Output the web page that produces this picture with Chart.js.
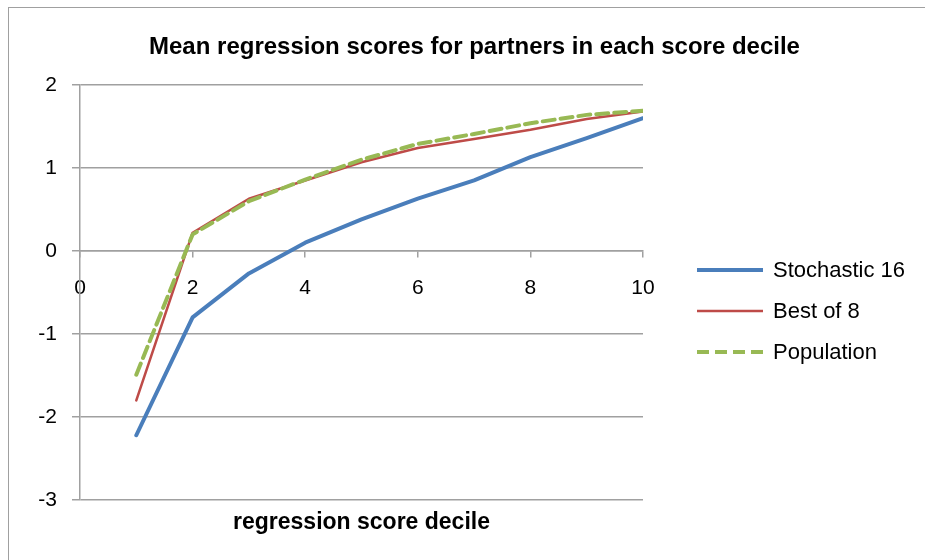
<!DOCTYPE html>
<html>
<head>
<meta charset="utf-8">
<script src="https://cdn.jsdelivr.net/npm/chart.js@4/dist/chart.umd.min.js"></script>
<style>
    html, body { margin: 0; padding: 0; background: #fff; }
    #wrap { position: relative; width: 925px; height: 560px; overflow: hidden; }
    #frame { position: absolute; left: 8px; top: 7px; width: 1000px; height: 700px; border: 1px solid #a0a0a0; box-sizing: border-box; }
    #chart { position: absolute; left: 0; top: 0; }
</style>
</head>
<body>
<div id="wrap">
    <div id="frame"></div>
    <canvas id="chart" width="925" height="560"></canvas>
</div>
<script>
'use strict';

// Chart data
const deciles = [1, 2, 3, 4, 5, 6, 7, 8, 9, 10];
const stochastic16 = [-2.22, -0.80, -0.27, 0.10, 0.38, 0.63, 0.85, 1.13, 1.36, 1.60];
const bestOf8 = [-1.80, 0.22, 0.63, 0.85, 1.07, 1.24, 1.35, 1.46, 1.59, 1.68];
const population = [-1.49, 0.20, 0.60, 0.86, 1.10, 1.29, 1.41, 1.54, 1.64, 1.69];
const seriesNames = ['Stochastic 16', 'Best of 8', 'Population'];
const xTicks = [0, 2, 4, 6, 8, 10];
const yTicks = [-3, -2, -1, 0, 1, 2];

const gridColor = '#a0a0a0';
Chart.defaults.font.family = "'Liberation Sans', Arial, sans-serif";
Chart.defaults.color = '#000';

function points(values) {
    return deciles.map((d, i) => ({ x: d, y: values[i] }));
}

// Legend drawn on the right, in dataset order
const sideLegend = {
    id: 'sideLegend',
    afterDraw(chart) {
        let ctx = chart.ctx;
        ctx.save();
        chart.data.datasets.forEach((ds, i) => {
            let y = 270 + i * 41;
            ctx.beginPath();
            ctx.strokeStyle = ds.borderColor;
            ctx.lineWidth = ds.borderWidth;
            ctx.setLineDash(ds.borderDash || []);
            ctx.lineCap = 'butt';
            ctx.moveTo(697, y);
            ctx.lineTo(763, y);
            ctx.stroke();
            ctx.setLineDash([]);
            ctx.fillStyle = '#000';
            ctx.font = "22px 'Liberation Sans', Arial, sans-serif";
            ctx.textBaseline = 'middle';
            ctx.textAlign = 'left';
            ctx.fillText(ds.label, 773, y + 1);
        });
        ctx.restore();
    }
};

let chart = new Chart(document.getElementById('chart').getContext('2d'), {
    type: 'line',
    data: {
        datasets: [{
            label: seriesNames[0],
            data: points(stochastic16),
            borderColor: '#4a7ebb',
            borderWidth: 4,
            order: 2
        }, {
            label: seriesNames[1],
            data: points(bestOf8),
            borderColor: '#be4b48',
            borderWidth: 2.5,
            order: 1
        }, {
            label: seriesNames[2],
            data: points(population),
            borderColor: '#98b954',
            borderWidth: 4,
            borderDash: [12, 6],
            order: 0
        }]
    },
    options: {
        responsive: false,
        animation: false,
        devicePixelRatio: 1,
        layout: {
            padding: { left: 24, top: 0, right: 0, bottom: 0 }
        },
        elements: {
            point: { radius: 0, hoverRadius: 0 },
            line: { tension: 0, fill: false, borderCapStyle: 'round', borderJoinStyle: 'round' }
        },
        plugins: {
            legend: { display: false },
            tooltip: { enabled: false },
            title: {
                display: true,
                text: 'Mean regression scores for partners in each score decile',
                font: { size: 24, weight: 'bold' },
                color: '#000',
                padding: { top: 33, bottom: 23.2 }
            }
        },
        scales: {
            x: {
                type: 'linear',
                position: 'bottom',
                min: 0,
                max: 10,
                grid: { display: false, drawTicks: false },
                border: { display: false },
                ticks: { display: false },
                title: {
                    display: true,
                    text: 'regression score decile',
                    font: { size: 23, weight: 'bold' },
                    color: '#000',
                    padding: { top: 0, bottom: 24 }
                },
                afterFit: (scale) => { scale.height = 60; }
            },
            xZero: {
                type: 'linear',
                axis: 'x',
                position: { y: 0 },
                min: 0,
                max: 10,
                afterBuildTicks: (scale) => { scale.ticks = xTicks.map(v => ({ value: v })); },
                grid: { drawOnChartArea: false, color: gridColor, lineWidth: 1.5, tickLength: 6 },
                border: { color: gridColor, width: 1.5 },
                ticks: { font: { size: 21 }, color: '#000', padding: 19, maxRotation: 0 },
                afterFit: (scale) => { scale.height = 0; }
            },
            y: {
                type: 'linear',
                min: -3,
                max: 2,
                afterBuildTicks: (scale) => { scale.ticks = yTicks.map(v => ({ value: v })); },
                grid: { color: gridColor, lineWidth: 1.5, tickLength: 8 },
                border: { color: gridColor, width: 1.5 },
                ticks: { font: { size: 21 }, color: '#000', padding: 15 },
                afterFit: (scale) => { scale.width = 56; }
            },
            legendSpace: {
                type: 'linear',
                axis: 'y',
                position: 'right',
                grid: { display: false, drawTicks: false },
                border: { display: false },
                ticks: { display: false },
                afterFit: (scale) => { scale.width = 282; }
            }
        }
    },
    plugins: [sideLegend]
});
</script>
</body>
</html>
